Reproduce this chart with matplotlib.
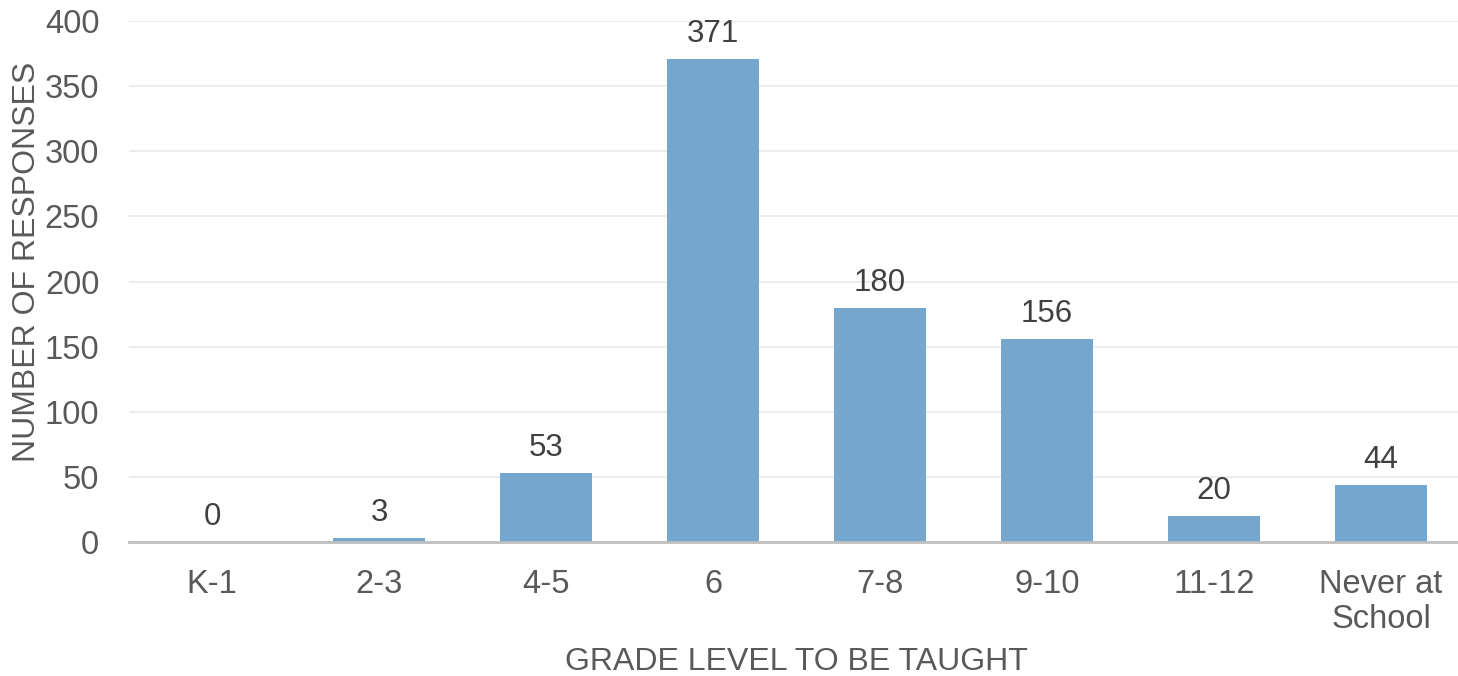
import matplotlib
matplotlib.use("Agg")
import matplotlib.pyplot as plt

categories = ["K-1", "2-3", "4-5", "6", "7-8", "9-10", "11-12", "Never at\nSchool"]
responses = [0, 3, 53, 371, 180, 156, 20, 44]
y_ticks = [0, 50, 100, 150, 200, 250, 300, 350, 400]

plt.rcParams["font.family"] = ["Liberation Sans", "DejaVu Sans"]

W, H = 1458, 676
fig = plt.figure(figsize=(W / 100, H / 100), dpi=100)
left, right = 128.5, 1464.5
bottom, top = 542, 21
ax = fig.add_axes([left / W, 1 - bottom / H, (right - left) / W, (bottom - top) / H])

x = range(len(categories))
bars = ax.bar(x, responses, width=0.55, color="#74A6CE", zorder=3)

ax.set_xlim(-0.5, len(categories) - 0.5)
ax.set_ylim(0, 400)
ax.set_yticks(y_ticks)
ax.set_xticks(list(x))
ax.set_xticklabels(categories, linespacing=1.17)

for b, v in zip(bars, responses):
    ax.annotate(str(v), (b.get_x() + b.get_width() / 2, v),
                xytext=(0, 7), textcoords="offset points",
                ha="center", va="bottom", fontsize=22.5, color="#404040")

ax.tick_params(axis="both", length=0, labelsize=23.5, colors="#595959")
ax.tick_params(axis="y", pad=21)
ax.tick_params(axis="x", pad=19.5)
ax.grid(axis="y", color="#EBEBEB", linewidth=1.3, zorder=0)
for s in ["top", "right", "left"]:
    ax.spines[s].set_visible(False)
ax.spines["bottom"].set_color("#BFBFBF")
ax.spines["bottom"].set_linewidth(2)
ax.spines["bottom"].set_zorder(4)

fig.text(796 / W, 1 - 662 / H, "GRADE LEVEL TO BE TAUGHT", ha="center", va="center",
         fontsize=23, color="#595959")
fig.text(27 / W, 1 - 262 / H, "NUMBER OF RESPONSES", ha="center", va="center",
         rotation=90, fontsize=23, color="#595959")

fig.savefig("out.png", dpi=100)
